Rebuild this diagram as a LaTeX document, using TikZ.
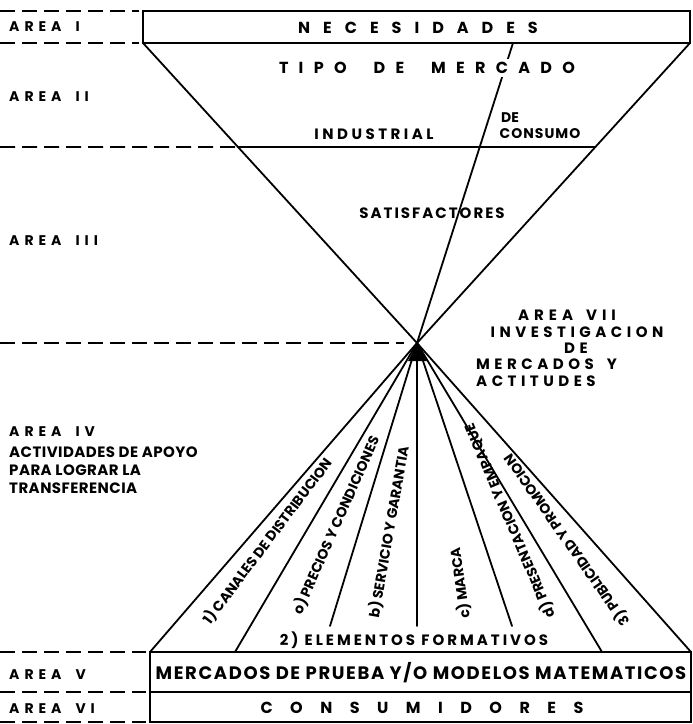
\documentclass[tikz,border=0pt]{standalone}
\usepackage{fontspec}
\setmainfont{Poppins}
\usetikzlibrary{calc}
% size and tracking in one go
\newcommand\tf[2]{\fontsize{#1}{#1}\selectfont\addfontfeatures{LetterSpace=#2}}
\newcommand\fs[1]{\fontsize{#1}{#1}\selectfont}
% hand tracking: \lsp{letter kern}{word gap}{LETTERS|WORD}
\makeatletter
\newcommand\lsp[3]{\begingroup\def\lsp@k{\kern#1\relax}\def\lsp@w{\hspace*{#2}}\lsp@go#3\relax\endgroup}
\def\lsp@go#1{\ifx#1\relax\unkern\else\ifx#1|\unkern\lsp@w\else#1\lsp@k\fi\expandafter\lsp@go\fi}
\makeatother
\begin{document}
\begin{tikzpicture}[x=1pt,y=-1pt,
  edge/.style={line width=1.8pt, line cap=round, line join=round},
  guide/.style={line width=1.7pt, dash pattern=on 15pt off 7pt},
  frame/.style={line width=1.8pt},
  txt/.style={inner sep=0pt},
  area/.style={txt, anchor=west, font=\bfseries\fs{14}},
  side/.style={txt, anchor=west, font=\bfseries\tf{15}{3}},
  seven/.style={txt, font=\bfseries\fs{15}},
  fan/.style={txt, font=\bfseries\fs{14}},
]
\useasboundingbox (0,0) rectangle (693,724);

% key points of the funnel
\coordinate (apex) at (417,343);
\coordinate (nw) at (143,11);
\coordinate (sw) at (143,43);
\coordinate (se) at (690,43);
\coordinate (mid) at (513,43);
\coordinate (cutL) at ($(sw)!0.3467!(apex)$);
\coordinate (cutR) at ($(se)!0.3467!(apex)$);

% fan ends
\coordinate (fA) at (150,652);
\coordinate (fB) at (235,652);
\coordinate (fC) at (330,626);
\coordinate (fD) at (417,626);
\coordinate (fE) at (512,626);
\coordinate (fF) at (602,652);
\coordinate (fG) at (691,652);
\coordinate (bm) at (150,692);
\coordinate (bmR) at (691,692);
\coordinate (bb) at (691,722);

% left guides
\draw[guide] (0,11) -- (139,11);
\draw[guide] (0,43) -- (139,43);
\draw[guide] (0,147) -- (cutL);
\draw[guide] (0,343) -- (404,343);
\draw[guide] (0,652) -- (146,652);
\draw[guide] (0,692) -- (146,692);
\draw[guide] (0,722) -- (146,722);

% top box and funnel
\draw[frame] (nw) rectangle (se);
\draw[edge] (sw) -- (apex) -- (se);
\draw[edge] (mid) -- (apex);
\draw[edge] (cutL) -- (cutR);

% fan of supporting activities
\foreach \p in {fA,fB,fC,fD,fE,fF,fG} \draw[edge] (apex) -- (\p);
\fill (apex) -- (408,361) -- (427,361) -- cycle;

% bottom boxes
\draw[frame] (fA) rectangle (bb);
\draw[frame] (bm) -- (bmR);

% texts of the funnel
\node[txt, font=\bfseries\fs{16}] (nec) at (418,28) {\lsp{13pt}{0pt}{NECESIDADES}};
\node[txt, fill=white, inner sep=3pt, font=\bfseries\fs{16}] (tipo) at (427,68) {\lsp{10.3pt}{27pt}{TIPO|DE|MERCADO}};
\node[txt, font=\bfseries\fs{15}] (ind) at (374,134) {\lsp{3.5pt}{0pt}{INDUSTRIAL}};
\node[txt, font=\bfseries\fs{14}] (de) at (510,118) {DE};
\node[txt, font=\bfseries\fs{14}] (cons) at (540,134) {\lsp{1pt}{0pt}{CONSUMO}};
\node[txt, font=\bfseries\fs{15}] (sat) at (432,213) {\lsp{2pt}{0pt}{SATISFACTORES}};

% area labels
\node[area] (a1) at (9,27) {\lsp{5pt}{14pt}{AREA|I}};
\node[area] (a2) at (9,97) {\lsp{5pt}{14pt}{AREA|II}};
\node[area] (a3) at (9,241) {\lsp{5pt}{14pt}{AREA|III}};
\node[area] (a4) at (9,432) {\lsp{5pt}{14pt}{AREA|IV}};
\node[side] (s1) at (9,452) {ACTIVIDADES DE APOYO};
\node[side] (s2) at (9,470) {PARA LOGRAR LA};
\node[side] (s3) at (9,488) {TRANSFERENCIA};
\node[area] (a5) at (9,675) {\lsp{5pt}{14pt}{AREA|V}};
\node[area] (a6) at (9,709) {\lsp{5pt}{14pt}{AREA|VI}};

% research block
\node[seven] (r1) at (567,315) {\lsp{5pt}{13pt}{AREA|VII}};
\node[seven] (r2) at (577,332) {\lsp{4.5pt}{0pt}{INVESTIGACION}};
\node[seven] (r3) at (576,348) {\lsp{4.5pt}{0pt}{DE}};
\node[seven, anchor=west] (r4) at (476,364) {\lsp{4.5pt}{13pt}{MERCADOS|Y}};
\node[seven, anchor=west] (r5) at (476,381) {\lsp{4.5pt}{0pt}{ACTITUDES}};

% fan labels
\node[fan, rotate=53] (l1) at (268,541) {1) CANALES DE DISTRIBUCION};
\node[fan, rotate=66] (l2) at (336,525) {o) PRECIOS Y CONDICIONES};
\node[fan, rotate=80] (l3) at (389,532) {b) SERVICIO Y GARANTIA};
\node[fan, rotate=98] (l4) at (460,583) {c) MARCA};
\node[fan, rotate=113] (l5) at (510,521) {d) PRESENTACION Y EMPAQUE};
\node[fan, rotate=125] (l6) at (567,540) {3) PUBLICIDAD Y PROMOCION};
\node[txt, font=\bfseries\tf{15}{20}] (el) at (414,640) {2) ELEMENTOS FORMATIVOS};

% bottom box texts
\node[txt, font=\bfseries\tf{18}{9}] (mp) at (421,673) {MERCADOS DE PRUEBA Y/O MODELOS MATEMATICOS};
\node[txt, font=\bfseries\fs{16}] (cs) at (422,708) {\lsp{17.5pt}{0pt}{CONSUMIDORES}};
\end{tikzpicture}
\end{document}
